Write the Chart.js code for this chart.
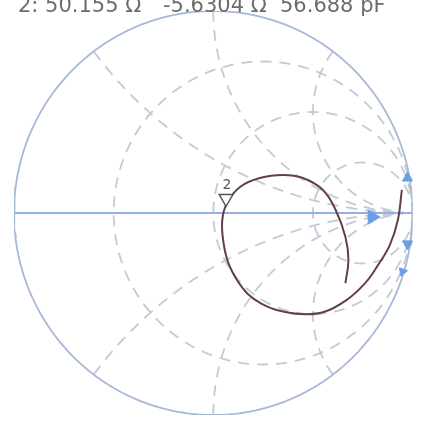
<!DOCTYPE html>
<html>
<head>
<meta charset="utf-8">
<script src="https://cdn.jsdelivr.net/npm/chart.js@4/dist/chart.umd.min.js"></script>
<style>
  html, body { margin: 0; padding: 0; background: #fff; overflow: hidden; }
  #smith { display: block; }
</style>
</head>
<body>
<canvas id="smith" width="422" height="429"></canvas>
<script>
/**
 * Data (reflection coefficient, real / imaginary)
 */
let readout       = ['2: 50.155 Ω', '-5.6304 Ω', '56.688 pF']
let resistances   = [1 / 3, 1, 3]
let reactances    = [0.5, 1, 2, -0.5, -1, -2]

let traceRe = [0.663, 0.678, 0.663, 0.614, 0.550, 0.450, 0.351, 0.233, 0.134, 0.069, 0.045, 0.050, 0.074,
               0.119, 0.173, 0.243, 0.317, 0.436, 0.554, 0.668, 0.762, 0.827, 0.886, 0.926, 0.946]
let traceIm = [-0.347, -0.233, -0.119, 0.015, 0.114, 0.173, 0.188, 0.173, 0.129, 0.050, -0.035, -0.139, -0.243,
               -0.332, -0.401, -0.450, -0.480, -0.500, -0.490, -0.431, -0.347, -0.257, -0.158, -0.035, 0.114]

let markerRe    = [0.064]
let markerIm    = [0.072]
let markerLabel = ['2']

let arrowRe  = [0.797, 0.975, 0.975, 0.950]
let arrowIm  = [-0.020, 0.173, -0.153, -0.290]
let arrowRot = [90, 0, 180, 200]

/**
 * Grid helpers
 */
function zToGamma (r, x) {
  let d = (r + 1) * (r + 1) + x * x
  return {x: (r * r - 1 + x * x) / d, y: (2 * x) / d}
}

function resistanceCircle (r) {
  let pts = []
  for (let i = 0; i <= 200; i++) {
    let th = 2 * Math.PI * i / 200
    pts.push({x: r / (1 + r) + Math.cos(th) / (1 + r), y: Math.sin(th) / (1 + r)})
  }
  return pts
}

function reactanceArc (xv) {
  let pts = []
  for (let i = 0; i <= 200; i++) {
    let r = i === 200 ? 1e9 : Math.tan(Math.PI / 2 * i / 200)
    pts.push(zToGamma(r, xv))
  }
  return pts
}

function unitCircle () {
  let pts = []
  for (let i = 0; i <= 240; i++) {
    let th = 2 * Math.PI * i / 240
    pts.push({x: Math.cos(th), y: Math.sin(th)})
  }
  return pts
}

let gridStyle = {
  showLine   : true,
  pointRadius: 0,
  borderColor: '#c3c9d5',
  borderWidth: 1.8,
  borderDash : [11, 8],
  order      : 10
}

let datasets = []

resistances.forEach(function (r) {
  datasets.push(Object.assign({data: resistanceCircle(r)}, gridStyle))
})
reactances.forEach(function (xv) {
  datasets.push(Object.assign({data: reactanceArc(xv)}, gridStyle))
})

//Outer circle + real axis
datasets.push({
  data       : unitCircle(),
  showLine   : true,
  pointRadius: 0,
  borderColor: '#a7b8d8',
  borderWidth: 1.8,
  order      : 5
})
datasets.push({
  data       : [{x: -1, y: 0}, {x: 1, y: 0}],
  showLine   : true,
  pointRadius: 0,
  borderColor: '#92b0e0',
  borderWidth: 1.8,
  order      : 5
})

//Trace
datasets.push({
  data       : traceRe.map((v, i) => ({x: v, y: traceIm[i]})),
  showLine   : true,
  tension    : 0.4,
  pointRadius: 0,
  borderColor: '#62404a',
  borderWidth: 2,
  order      : 1
})

//Blue arrows
datasets.push({
  data           : arrowRe.map((v, i) => ({x: v, y: arrowIm[i]})),
  pointStyle     : 'triangle',
  rotation       : arrowRot,
  pointRadius    : [8, 6, 6, 5],
  backgroundColor: '#6aa0e2',
  borderColor    : '#6aa0e2',
  borderWidth    : 1,
  order          : 2
})

//Marker
datasets.push({
  label          : 'marker',
  data           : markerRe.map((v, i) => ({x: v, y: markerIm[i]})),
  pointStyle     : 'triangle',
  rotation       : 180,
  pointRadius    : 8,
  backgroundColor: '#ffffff',
  borderColor    : '#555555',
  borderWidth    : 1.4,
  order          : 0
})

/**
 * Plugin: readout text + marker label
 */
let textPlugin = {
  id: 'smithText',
  afterDatasetsDraw: function (chart) {
    let ctx = chart.ctx
    ctx.save()
    ctx.fillStyle = '#6c6c6c'
    ctx.font = '21px "DejaVu Sans"'
    ctx.textBaseline = 'alphabetic'
    let xs = [18, 163, 280]
    readout.forEach(function (t, i) {
      ctx.fillText(t, xs[i], 12)
    })

    let meta = chart.getDatasetMeta(chart.data.datasets.length - 1)
    ctx.fillStyle = '#555'
    ctx.font = '14px "DejaVu Sans"'
    ctx.textAlign = 'center'
    meta.data.forEach(function (pt, i) {
      ctx.fillText(markerLabel[i], pt.x + 1, pt.y - 9)
    })
    ctx.restore()
  }
}

let smithChart = new Chart(document.getElementById('smith'), {
  type   : 'scatter',
  data   : {datasets: datasets},
  options: {
    responsive: false,
    animation : false,
    layout    : {padding: {left: 14, right: 4, top: 11, bottom: 14}},
    scales    : {
      x: {type: 'linear', min: -1, max: 1, display: false},
      y: {type: 'linear', min: -1, max: 1, display: false}
    },
    plugins   : {
      legend : {display: false},
      tooltip: {enabled: false}
    }
  },
  plugins: [textPlugin]
})
</script>
</body>
</html>
